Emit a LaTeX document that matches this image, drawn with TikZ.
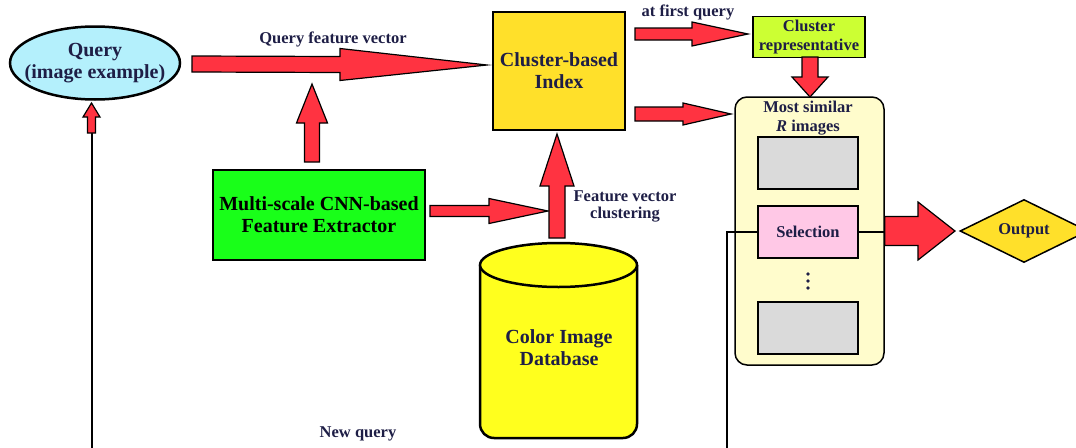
\documentclass[tikz,border=0pt]{standalone}
\usepackage{fontspec}
\setmainfont{Liberation Serif}
\usetikzlibrary{calc,shapes.geometric}
\definecolor{queryblue}{HTML}{B4F0FC}
\definecolor{idxgold}{HTML}{FFE02A}
\definecolor{repgreen}{HTML}{CCFF33}
\definecolor{cnngreen}{HTML}{19FF19}
\definecolor{dbyellow}{HTML}{FFFF1E}
\definecolor{simcream}{HTML}{FFFCCC}
\definecolor{imggray}{HTML}{DADADA}
\definecolor{selpink}{HTML}{FFC8E6}
\definecolor{arrowred}{HTML}{FF3341}
\definecolor{inkblue}{HTML}{1E1E46}

\tikzset{
  box/.style={draw=black, line width=2.5pt, align=center, text=inkblue,
    font=\fontsize{20}{22}\selectfont\bfseries},
  thinbox/.style={box, line width=1.5pt, font=\fontsize{16.5}{18.5}\selectfont\bfseries},
  imgbox/.style={draw=black, line width=2.5pt, minimum width=100, minimum height=52},
  lbl/.style={text=inkblue, align=center, font=\fontsize{16.5}{17}\selectfont\bfseries},
  blockarrow/.style={fill=arrowred, draw=black, line width=1.2pt, line join=miter},
  feedback/.style={draw=black, line width=2pt},
}

% red block arrow: from, to, shaft half width, head half width, head length
\newcommand{\blockarrow}[5]{%
  \coordinate (ba-h) at ($(#2)!#5!(#1)$);
  \filldraw[blockarrow] ($(#1)!#3!90:(#2)$) -- ($(ba-h)!#3!90:(#2)$)
    -- ($(ba-h)!#4!90:(#2)$) -- (#2) -- ($(ba-h)!#4!-90:(#2)$)
    -- ($(ba-h)!#3!-90:(#2)$) -- ($(#1)!#3!-90:(#2)$) -- cycle;
}

\begin{document}
\begin{tikzpicture}[x=1pt,y=-1pt]
\useasboundingbox (0,0) rectangle (1076,447);
\clip (0,0) rectangle (1076,447);

% database cylinder
\filldraw[fill=dbyellow, line width=2.5pt, rounded corners=14pt]
  (480,265) -- (480,438) -- (637,438) -- (637,265);
\filldraw[fill=dbyellow, line width=2.5pt] (558.5,265) ellipse (78.5pt and 22pt);
\node[box, draw=none] (db) at (559,348) {Color Image\\Database};

% main nodes
\node[box, ellipse, fill=queryblue, minimum width=170, minimum height=73,
  inner xsep=-15pt, inner ysep=0pt] (query) at (95,63) {Query\\(image example)};
\node[box, fill=idxgold, minimum width=132, minimum height=118] (idx) at (559,71) {Cluster-based\\Index};
\node[box, fill=cnngreen, minimum width=212, minimum height=90, text=black,
  inner xsep=1pt] (cnn) at (319,215) {Multi-scale CNN-based\\Feature Extractor};
\node[thinbox, fill=repgreen, minimum width=112, minimum height=41, inner sep=1pt] (rep) at (809,37) {Cluster\\representative};

% most similar R images
\node[draw=black, line width=1.5pt, fill=simcream, rounded corners=12pt,
  minimum width=149, minimum height=268] (simr) at (809.5,231) {};
\node[lbl, font=\fontsize{16.5}{19}\selectfont\bfseries] (simt) at (808,118) {Most similar\\\textit{R} images};
\node[imgbox, fill=imggray] (img1) at (808,163) {};
\node[imgbox, fill=selpink, lbl] (sel) at (808,232) {Selection};
\node[imgbox, fill=imggray] (img2) at (808,328) {};
\foreach \y in {274,281,288}
  \fill[inkblue] (808,\y) circle (1.8pt);
\node[box, diamond, aspect=2, fill=idxgold, line width=1.5pt, minimum width=128,
  minimum height=63, inner sep=0pt, font=\fontsize{16.5}{17}\selectfont\bfseries] (out) at (1024,231) {Output};

% labels
\node[lbl] (qfv) at (333,39) {Query feature vector};
\node[lbl] (afq) at (688,12) {at first query};
\node[lbl] (fvc) at (625,206) {Feature vector\\clustering};
\node[lbl] (nq) at (358,434) {New query};

% arrow ends
\coordinate (qa1) at (192,64);   \coordinate (qa2) at (487,65);
\coordinate (ca1) at (312,162);  \coordinate (ca2) at (312,84);
\coordinate (ea1) at (430,211);  \coordinate (ea2) at (548,211);
\coordinate (da1) at (557,238);  \coordinate (da2) at (557,134);
\coordinate (fa1) at (635,34);   \coordinate (fa2) at (748,34);
\coordinate (ia1) at (635,114);  \coordinate (ia2) at (731,114);
\coordinate (ra1) at (810,57);   \coordinate (ra2) at (810,97);
\coordinate (oa2) at (955,231);
\coordinate (nqr) at (727,470);  \coordinate (nql) at (91.5,470);
\coordinate (qtail) at (91.5,133); \coordinate (qtip) at (91.5,103);

% block arrows
\blockarrow{qa1}{qa2}{8pt}{16pt}{147pt}
\blockarrow{ca1}{ca2}{7.5pt}{15.5pt}{39pt}
\blockarrow{ea1}{ea2}{5.5pt}{12.5pt}{59pt}
\blockarrow{da1}{da2}{8pt}{17pt}{52pt}
\blockarrow{fa1}{fa2}{6pt}{12pt}{56pt}
\blockarrow{ia1}{ia2}{7pt}{11pt}{48pt}
\blockarrow{ra1}{ra2}{8pt}{18pt}{20pt}
\blockarrow{simr.east}{oa2}{14.5pt}{29pt}{37pt}

% new query loop
\draw[feedback] (sel.east) -- (sel.east -| simr.east);
\draw[feedback] (sel.west) -| (nqr) -- (nql) -- (qtail);
\blockarrow{qtail}{qtip}{4pt}{8.5pt}{14pt}
\end{tikzpicture}
\end{document}
